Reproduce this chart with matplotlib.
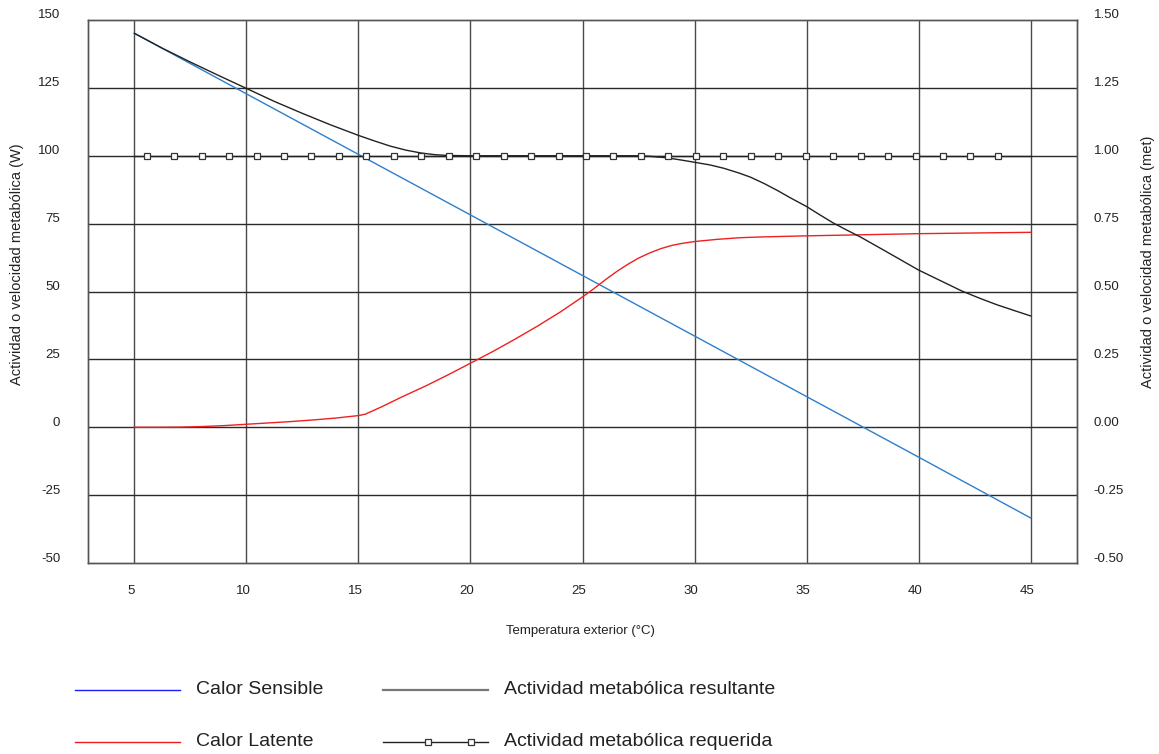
import numpy as np
import matplotlib
matplotlib.use("Agg")
import matplotlib.pyplot as plt
import matplotlib.transforms as mtransforms
from matplotlib.lines import Line2D

plt.rcParams['font.family'] = ['Liberation Sans', 'DejaVu Sans']
plt.rcParams['axes.unicode_minus'] = False

# Calor sensible (W)
temp_sens = [5, 10, 15, 20, 25, 30, 35, 40, 45]
sens = [145.1, 122.8, 100.5, 78.2, 55.9, 33.6, 11.3, -11.0, -33.4]

# Calor latente (W)
temp_lat = [5, 6, 7, 8, 9, 10, 11, 12, 13, 14, 15, 15.3, 16, 17, 18, 19, 20,
            21, 22, 23, 24, 25, 25.5, 26, 26.5, 27, 27.5, 28, 28.5, 29, 29.5,
            30, 31, 32, 33, 35, 40, 45]
lat = [0, 0, 0.05, 0.25, 0.6, 1.1, 1.6, 2.1, 2.7, 3.4, 4.3, 4.8, 7.4, 11.4,
       15.2, 19.3, 23.6, 27.9, 32.5, 37.3, 42.4, 48.0, 51.0, 54.2, 57.2, 59.9,
       62.3, 64.2, 65.8, 67.0, 67.8, 68.4, 69.2, 69.8, 70.1, 70.5, 71.3, 71.8]

# Actividad metabolica resultante (W)
temp_res = [5, 6.25, 7.5, 8.75, 10, 11.25, 12.5, 13.75, 15, 15.7, 16.4, 17.1,
            17.8, 18.4, 19, 20, 27.5, 28, 28.7, 29.35, 30, 30.7, 31.3, 32,
            32.5, 33.1, 33.7, 34.3, 35, 35.6, 36.2, 36.8, 37.4, 38, 38.6, 39.3,
            40, 41, 41.9, 42.7, 43.5, 44.3, 45]
res = [145.1, 139.6, 134.5, 129.6, 124.8, 120.0, 115.6, 111.4, 107.5, 105.5,
       103.6, 102.1, 101.0, 100.4, 100.1, 100.0, 100.0, 99.8, 99.3, 98.5, 97.6,
       96.6, 95.4, 93.6, 92.1, 89.8, 87.2, 84.4, 81.3, 78.2, 75.2, 72.6, 70.1,
       67.3, 64.5, 61.2, 57.9, 53.9, 50.3, 47.6, 45.1, 42.9, 41.0]

# Actividad metabolica requerida (met)
temp_req_line = [5, 45]
req_line = [1.0, 1.0]
temp_req = np.linspace(5.55, 43.54, 32)
req = [1.0] * 32

x_ticks = [5, 10, 15, 20, 25, 30, 35, 40, 45]
y_ticks = [-50, -25, 0, 25, 50, 75, 100, 125, 150]
y2_ticks = [-0.5, -0.25, 0.0, 0.25, 0.5, 0.75, 1.0, 1.25, 1.5]

W, H = 1159, 754
fig = plt.figure(figsize=(W / 100, H / 100), dpi=100)
ax = fig.add_axes([88 / W, 1 - 563 / H, (1077 - 88) / W, (563 - 20) / H])
ax2 = ax.twinx()

ax.set_xlim(2.93, 47.07)
ax.set_ylim(-50, 150)
ax2.set_ylim(-0.5, 1.5)

# grid
for t in x_ticks:
    ax.axvline(t, color='#4a4a4a', lw=1, zorder=1)
for v in y_ticks[1:-1]:
    ax.axhline(v, color='#2a2a2a', lw=1, zorder=1)

ax.plot(temp_sens, sens, color='#2e7fcc', lw=1, zorder=3)
ax.plot(temp_lat, lat, color='#ee2020', lw=1, zorder=3)
ax.plot(temp_res, res, color='#222222', lw=1, zorder=3)
ax2.plot(temp_req_line, req_line, color='#222222', lw=1, zorder=3)
ax2.plot(temp_req, req, ls='none', marker='s', ms=4.3, mfc='white',
         mec='#333333', mew=0.9, zorder=4)

ax.set_xticks(x_ticks)
ax.set_yticks(y_ticks)
ax2.set_yticks(y2_ticks)
ax2.set_yticklabels(['%.2f' % v for v in y2_ticks])

for a in (ax, ax2):
    a.tick_params(length=0, labelsize=9.5, colors='#222222')
    for s in a.spines.values():
        s.set_color('#555555')
        s.set_linewidth(1)
ax.tick_params(axis='y', pad=20)
ax2.tick_params(axis='y', pad=12)
ax.tick_params(axis='x', pad=16)

up = mtransforms.ScaledTranslation(0, 6 / 100, fig.dpi_scale_trans)
for lab in ax.get_yticklabels() + ax2.get_yticklabels():
    lab.set_transform(lab.get_transform() + up)
left = mtransforms.ScaledTranslation(-3.5 / 100, 0, fig.dpi_scale_trans)
for lab in ax.get_xticklabels():
    lab.set_transform(lab.get_transform() + left)

fig.text(580 / W, 1 - 631 / H, 'Temperatura exterior (°C)', ha='center',
         va='center', fontsize=9.5, color='#222222')
fig.text(17 / W, 1 - 264 / H, 'Actividad o velocidad metabólica (W)',
         rotation=90, ha='center', va='center', fontsize=10.5, color='#222222')
fig.text(1148 / W, 1 - 262 / H, 'Actividad o velocidad metabólica (met)',
         rotation=90, ha='center', va='center', fontsize=10.5, color='#222222')

# legend drawn by hand below the chart
def fx(px):
    return px / W

def fy(py):
    return 1 - py / H

fig.add_artist(Line2D([fx(75), fx(180)], [fy(690), fy(690)], color='#1a1aff', lw=1))
fig.add_artist(Line2D([fx(75), fx(180)], [fy(742), fy(742)], color='#ee1c1c', lw=1))
fig.add_artist(Line2D([fx(383), fx(488)], [fy(690), fy(690)], color='#777777', lw=1.6))
fig.add_artist(Line2D([fx(383), fx(488)], [fy(742), fy(742)], color='#222222', lw=1))
fig.add_artist(Line2D([fx(428), fx(471)], [fy(742), fy(742)], ls='none', marker='s',
                      ms=4.3, mfc='white', mec='#333333', mew=0.9))
legend_labels = ['Calor Sensible', 'Calor Latente',
                 'Actividad metabólica resultante', 'Actividad metabólica requerida']
legend_pos = [(196, 690), (196, 742), (504, 690), (504, 742)]
for txt, (px, py) in zip(legend_labels, legend_pos):
    fig.text(fx(px), fy(py), txt, ha='left', va='center', fontsize=14,
             color='#222222')

fig.savefig('out.png', dpi=100)
